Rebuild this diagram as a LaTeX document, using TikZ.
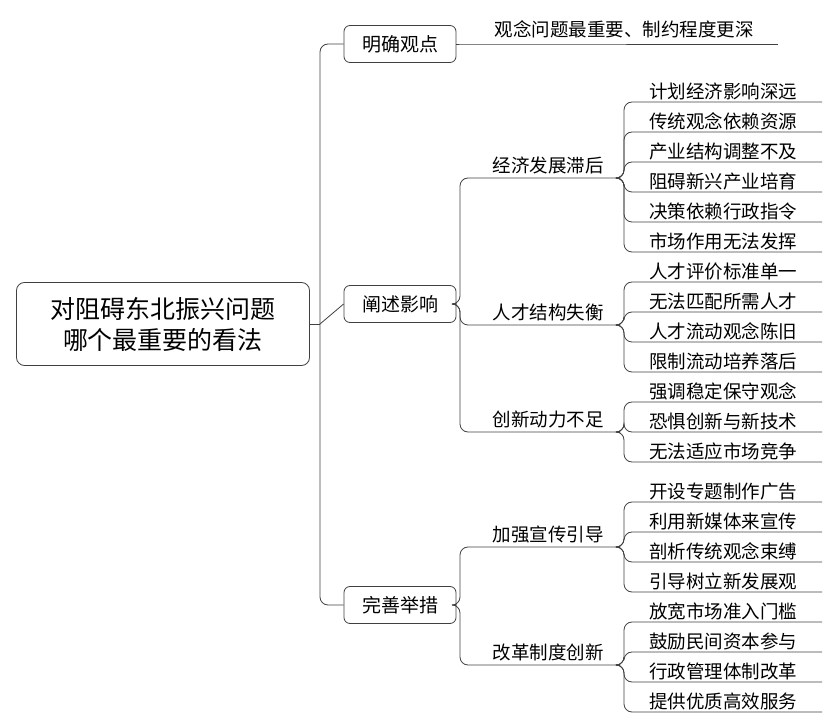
\documentclass[tikz,border=0pt]{standalone}
\usepackage{fontspec}
\setmainfont{Noto Sans CJK SC}
\usetikzlibrary{positioning}
\tikzset{
  link/.style={draw=black!75, line width=0.8pt, rounded corners=8pt},
  topic/.style={draw=black!75, line width=0.8pt, rounded corners=6pt, minimum width=112pt, minimum height=37pt, font=\fontsize{19}{21}\selectfont},
  sub/.style={anchor=south, inner sep=2pt, font=\fontsize{18.5}{20}\selectfont},
}
% leaf: name, baseline y, join coordinate, text
\newcommand\leaf[4]{
  \node[sub] (#1) at (723,#2) {#4};
  \coordinate (#1l) at (624,#2);
  \coordinate (#1r) at (822,#2);
  \draw[link] (#3) -- (#3 -| #1l) -- (#1l) -- (#1r);
}
\begin{document}
\begin{tikzpicture}[x=1pt,y=-1pt]
\useasboundingbox (0,0) rectangle (839,727);
% root and topics
\node[draw=black!75, line width=0.8pt, rounded corners=8pt, minimum width=293pt, minimum height=83pt,
      align=center, font=\fontsize{25}{31}\selectfont] (root) at (163,324) {对阻碍东北振兴问题\\哪个最重要的看法};
\node[topic] (view) at (400,44) {明确观点};
\node[topic] (impact) at (400,304) {阐述影响};
\node[topic] (measure) at (400,605) {完善举措};
\coordinate (trunk) at (320,324);
\draw[link] (root.east) -- (trunk);
\draw[link] (trunk) -- (320,44) -- (view.west);
\draw[link] (trunk) -- (impact.west);
\draw[link] (trunk) -- (320,605) -- (measure.west);
% view
\node[sub] (idea) at (624,40) {观念问题最重要、制约程度更深};
\draw[link] (view.east) -- (470,44) -- (778,44);
% impact branches
\node[sub] (econ) at (548,176) {经济发展滞后};
\node[sub] (talent) at (548,323) {人才结构失衡};
\node[sub] (innov) at (548,430) {创新动力不足};
\coordinate (econj) at (620,178);
\coordinate (talentj) at (620,325);
\coordinate (innovj) at (620,432);
\draw[link] (impact.east) -- (460,304) -- (460,178) -- (econj);
\draw[link] (impact.east) -- (460,304) -- (460,325) -- (talentj);
\draw[link] (impact.east) -- (460,304) -- (460,432) -- (innovj);
\leaf{e1}{102}{econj}{计划经济影响深远}
\leaf{e2}{132}{econj}{传统观念依赖资源}
\leaf{e3}{162}{econj}{产业结构调整不及}
\leaf{e4}{192}{econj}{阻碍新兴产业培育}
\leaf{e5}{222}{econj}{决策依赖行政指令}
\leaf{e6}{252}{econj}{市场作用无法发挥}
\leaf{t1}{282}{talentj}{人才评价标准单一}
\leaf{t2}{312}{talentj}{无法匹配所需人才}
\leaf{t3}{342}{talentj}{人才流动观念陈旧}
\leaf{t4}{372}{talentj}{限制流动培养落后}
\leaf{i1}{402}{innovj}{强调稳定保守观念}
\leaf{i2}{432}{innovj}{恐惧创新与新技术}
\leaf{i3}{462}{innovj}{无法适应市场竞争}
% measure branches
\node[sub] (promo) at (548,545) {加强宣传引导};
\node[sub] (reform) at (548,663) {改革制度创新};
\coordinate (promoj) at (620,547);
\coordinate (reformj) at (620,665);
\draw[link] (measure.east) -- (460,605) -- (460,547) -- (promoj);
\draw[link] (measure.east) -- (460,605) -- (460,665) -- (reformj);
\leaf{p1}{502}{promoj}{开设专题制作广告}
\leaf{p2}{532}{promoj}{利用新媒体来宣传}
\leaf{p3}{562}{promoj}{剖析传统观念束缚}
\leaf{p4}{592}{promoj}{引导树立新发展观}
\leaf{r1}{622}{reformj}{放宽市场准入门槛}
\leaf{r2}{652}{reformj}{鼓励民间资本参与}
\leaf{r3}{682}{reformj}{行政管理体制改革}
\leaf{r4}{712}{reformj}{提供优质高效服务}
\end{tikzpicture}
\end{document}
